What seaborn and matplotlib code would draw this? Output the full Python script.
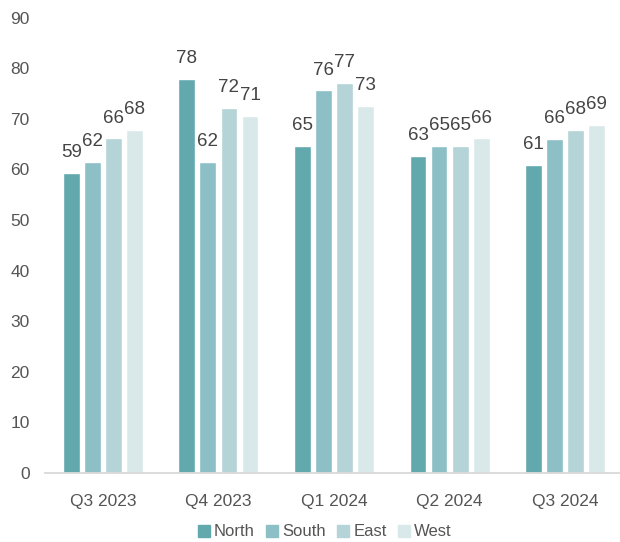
import matplotlib
matplotlib.use("Agg")
import matplotlib.pyplot as plt
from matplotlib.lines import Line2D
import seaborn as sns
import pandas as pd

# Quarterly scores by region
quarters = ["Q3 2023", "Q4 2023", "Q1 2024", "Q2 2024", "Q3 2024"]
regions = ["North", "South", "East", "West"]
north = [59.3, 77.9, 64.6, 62.6, 60.8]
south = [61.5, 61.5, 75.6, 64.6, 66.0]
east = [66.1, 72.2, 77.1, 64.6, 67.8]
west = [67.8, 70.6, 72.6, 66.1, 68.7]
y_ticks = [0, 10, 20, 30, 40, 50, 60, 70, 80, 90]

colors = ["#62a9ae", "#8cbfc6", "#b4d4d7", "#d9e8e9"]
text_color = "#444444"

series = {"North": north, "South": south, "East": east, "West": west}
df = pd.DataFrame(
    [(q, r, v) for r in regions for q, v in zip(quarters, series[r])],
    columns=["quarter", "region", "value"],
)

sns.set_theme(style="white")
plt.rcParams["font.family"] = ["Liberation Sans", "DejaVu Sans"]

fig = plt.figure(figsize=(6.2, 5.42), dpi=100)
ax = fig.add_axes([45 / 620, 69 / 542, 578 / 620, 455.5 / 542])

sns.barplot(
    data=df, x="quarter", y="value", hue="region",
    order=quarters, hue_order=regions, palette=colors,
    width=0.73, gap=0.2, saturation=1, legend=False, ax=ax,
)

for container in ax.containers:
    ax.bar_label(container, fmt="{:.0f}", padding=8.5, fontsize=13.5, color=text_color)

ax.set_xlim(-0.5, 4.5)
ax.set_ylim(0, 90)
ax.set_yticks(y_ticks)
ax.set_xlabel("")
ax.set_ylabel("")
ax.grid(False)
for side in ["left", "right", "top"]:
    ax.spines[side].set_visible(False)
ax.spines["bottom"].set_color("#d9d9d9")
ax.spines["bottom"].set_linewidth(1.3)
ax.tick_params(axis="y", length=0, pad=11, labelsize=12.5, labelcolor="#555555")
ax.tick_params(axis="x", length=0, pad=15, labelsize=12.5, labelcolor="#555555")

handles = [
    Line2D([], [], marker="s", linestyle="none", markersize=8,
           markerfacecolor=c, markeredgecolor=c)
    for c in colors
]
fig.legend(
    handles, regions, loc="center", bbox_to_anchor=(325 / 620, 10 / 542),
    ncol=4, frameon=False, fontsize=12, labelcolor="#555555",
    handlelength=0.7, handletextpad=0.25, columnspacing=0.7,
)

fig.savefig("out.png", dpi=100)
